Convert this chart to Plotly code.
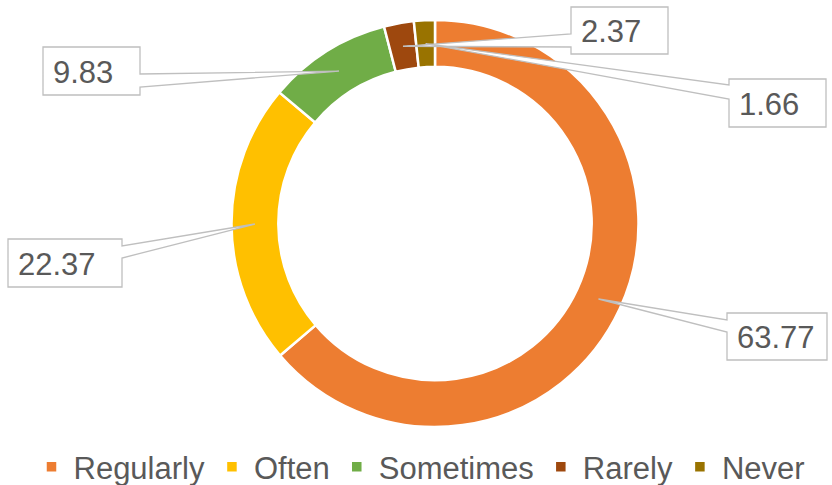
import math
import plotly.graph_objects as go

# ---- data ----
categories = ["Regularly", "Often", "Sometimes", "Rarely", "Never"]
values = [63.77, 22.37, 9.83, 2.37, 1.66]
value_labels = ["63.77", "22.37", "9.83", "2.37", "1.66"]
colors = ["#ED7D31", "#FFC000", "#70AD47", "#9E480E", "#997300"]

# ---- layout constants (pixels) ----
W, H = 832, 485
CX, CY, R_OUT = 435, 223.5, 203.5
HOLE = 0.77
FONT = "Arial, Liberation Sans, sans-serif"
# callout boxes: (x0, y0, x1, y1, side of notch, notch y0, notch y1)
boxes = [
    (727, 313, 827, 360, "left", 320, 332),
    (8, 239, 122, 287, "right", 246, 258),
    (43, 47, 140, 95, "right", 74, 87),
    (571, 7, 668, 54, "left", 34, 47),
    (729, 79, 826, 127, "left", 85, 99),
]
TEXT_PAD = 8

def px(x, y):
    return x / W, 1 - y / H

fig = go.Figure(go.Pie(
    labels=categories, values=values, hole=HOLE, sort=False,
    direction="clockwise", rotation=0, textinfo="none", hoverinfo="label+value",
    marker=dict(colors=colors, line=dict(color="white", width=2.5)),
    domain=dict(x=[(CX - R_OUT) / W, (CX + R_OUT) / W],
                y=[1 - (CY + R_OUT) / H, 1 - (CY - R_OUT) / H]),
))

total = sum(values)
r_mid = R_OUT * (1 + HOLE) / 2
cum = 0.0
shapes, annotations = [], []
for v, lab, b in zip(values, value_labels, boxes):
    mid = (cum + v / 2) / total * 360.0
    cum += v
    ang = math.radians(90 - mid)
    tx, ty = CX + r_mid * math.cos(ang), CY - r_mid * math.sin(ang)
    x0, y0, x1, y1, side, n0, n1 = b
    if side == "left":
        pts = [(x0, y0), (x1, y0), (x1, y1), (x0, y1), (x0, n1), (tx, ty), (x0, n0)]
    else:
        pts = [(x0, y0), (x1, y0), (x1, n0), (tx, ty), (x1, n1), (x1, y1), (x0, y1)]
    path = "M " + " L ".join("%.5f,%.5f" % px(*p) for p in pts) + " Z"
    shapes.append(dict(type="path", xref="paper", yref="paper", path=path,
                       fillcolor="white", line=dict(color="#BFBFBF", width=1.3),
                       layer="above"))
    axp, ayp = px(x0 + TEXT_PAD, (y0 + y1) / 2 + 1)
    annotations.append(dict(x=axp, y=ayp, xref="paper", yref="paper", text=lab,
                            showarrow=False, xanchor="left", yanchor="middle",
                            font=dict(size=31, color="#595959", family=FONT)))

fig.update_layout(
    width=W, height=H, margin=dict(l=0, r=0, t=0, b=0, autoexpand=False),
    paper_bgcolor="white", plot_bgcolor="white",
    shapes=shapes, annotations=annotations,
    showlegend=True,
    legend=dict(orientation="h", x=0.5 + 4 / W, xanchor="center", y=1 - 467 / H,
                yanchor="middle", font=dict(size=31, color="#595959", family=FONT),
                itemclick=False, traceorder="normal", itemwidth=34),
)
fig.write_html("out.html", config={"displayModeBar": False},
               post_script="document.body.style.margin='0';document.body.style.overflow='hidden';")
